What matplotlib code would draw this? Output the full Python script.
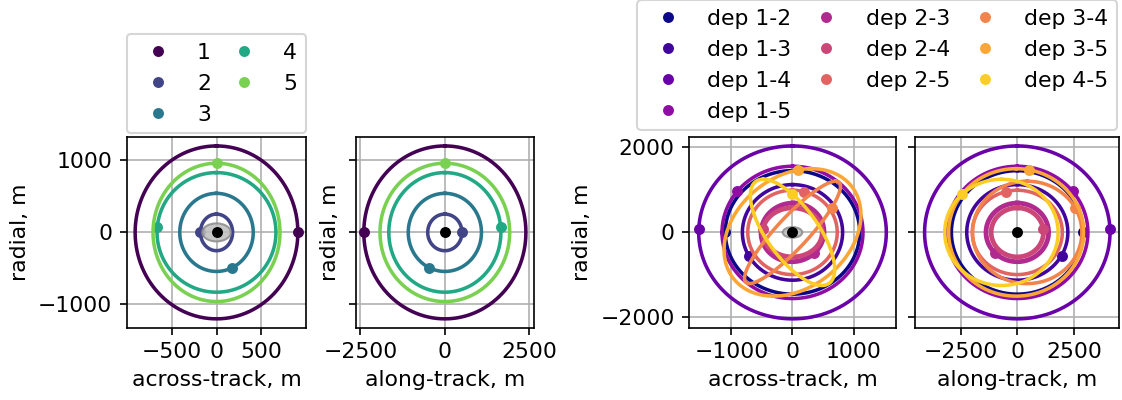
import numpy as np
import matplotlib.pyplot as plt
from matplotlib.patches import Ellipse

# deputy orbits relative to the chief (m, deg)
orbit_labels = ['1', '2', '3', '4', '5']
radial_amp = [1200, 254, 542, 830, 960]
along_amp = [2400, 508, 1084, 1660, 1920]
cross_amp = [910, 180, 411, 665, 710]
marker_phase = [-90, 90, -154.6, 85, 0]

# relative orbits between pairs of deputies
pair_labels = ['dep 1-2', 'dep 1-3', 'dep 1-4', 'dep 1-5', 'dep 2-3',
               'dep 2-4', 'dep 2-5', 'dep 3-4', 'dep 3-5', 'dep 4-5']
pair_radial_amp = [1454, 1125, 2035, 1557, 690, 577, 993, 1205, 1500, 1250]
pair_along_amp = [2908, 2230, 4090, 3114, 1380, 1154, 1986, 2410, 2980, 2500]
pair_along_off = [0, 0, 0, 0, 0, 0, 0, 437, -50, -700]
pair_cross_amp = [1100, 820, 1535, 1153, 515, 486, 732, 785, 1120, 690]
pair_cross_lag = [-90, -90, -90, -90, -89, -90, -90, 26, -74, -134]
pair_marker_phase = [90, 119, 88, 51.6, -135.2, 82.8, -14.8, 61, 11, -44]
pair_lw = [1.7, 1.7, 1.7, 1.7, 2.3, 2.3, 1.7, 1.7, 1.7, 1.7]

# chief keep-out zone half sizes (cross, radial), m
keep_out = (160, 125)

plt.rcParams['font.size'] = 10.5
plt.rcParams['lines.linewidth'] = 1.7
plt.rcParams['lines.markersize'] = 8.5


def relative_track(a, c, off, b, lag, th):
    th = np.radians(th)
    radial = a * np.cos(th)
    along = c * np.sin(th) + off
    cross = b * np.cos(th - np.radians(lag))
    return cross, along, radial


fig = plt.figure(figsize=(7.48, 400 / 150), dpi=150)
ax1 = fig.add_axes([127 / 1122, 0.18125, 179 / 1122, 0.4755])
ax2 = fig.add_axes([355.7 / 1122, 0.18125, 178.3 / 1122, 0.4755], sharey=ax1)
ax3 = fig.add_axes([689.3 / 1122, 0.18125, 206.4 / 1122, 0.4755])
ax4 = fig.add_axes([915.3 / 1122, 0.18125, 204 / 1122, 0.4755], sharey=ax3)

theta = np.linspace(0, 360, 721)

colors = plt.cm.viridis(np.linspace(0, 0.8, len(orbit_labels)))
for i, lab in enumerate(orbit_labels):
    cx, al, rd = relative_track(radial_amp[i], along_amp[i], 0, cross_amp[i], -90, theta)
    mx, ma, mr = relative_track(radial_amp[i], along_amp[i], 0, cross_amp[i], -90, marker_phase[i])
    ax1.plot(cx, rd, color=colors[i])
    ax1.plot(mx, mr, '.', color=colors[i], label=lab)
    ax2.plot(al, rd, color=colors[i])
    ax2.plot(ma, mr, '.', color=colors[i])

pcolors = plt.cm.plasma(np.linspace(0, 0.9, len(pair_labels)))
for i, lab in enumerate(pair_labels):
    args = (pair_radial_amp[i], pair_along_amp[i], pair_along_off[i],
            pair_cross_amp[i], pair_cross_lag[i])
    cx, al, rd = relative_track(*args, theta)
    mx, ma, mr = relative_track(*args, pair_marker_phase[i])
    ax3.plot(cx, rd, color=pcolors[i], lw=pair_lw[i])
    ax3.plot(mx, mr, '.', color=pcolors[i], label=lab)
    ax4.plot(al, rd, color=pcolors[i], lw=pair_lw[i])
    ax4.plot(ma, mr, '.', color=pcolors[i])

for ax in [ax1, ax3]:
    ax.add_patch(Ellipse((0, 0), 2 * keep_out[0], 2 * keep_out[1],
                         facecolor='0.74', edgecolor='0.55', alpha=0.85, zorder=3))
for ax in [ax1, ax2, ax3, ax4]:
    ax.plot(0, 0, '.', color='k', zorder=4)
    ax.grid(True)

ax1.set_xticks([-500, 0, 500])
ax1.set_yticks([-1000, 0, 1000])
ax2.set_xticks([-2500, 0, 2500])
ax3.set_xticks([-1000, 0, 1000])
ax3.set_yticks([-2000, 0, 2000])
ax4.set_xticks([-2500, 0, 2500])
ax2.tick_params(labelleft=False)
ax4.tick_params(labelleft=False)

ax1.set_xlabel('across-track, m')
ax1.set_ylabel('radial, m')
ax2.set_xlabel('along-track, m')
ax2.set_ylabel('radial, m')
ax3.set_xlabel('across-track, m')
ax3.set_ylabel('radial, m')
ax4.set_xlabel('along-track, m')

ax1.legend(ncol=2, mode='expand', loc='lower left',
           bbox_to_anchor=(0, 1.02, 1, 0.2), borderaxespad=0)
ax3.legend(ncol=3, loc='lower right', bbox_to_anchor=(0.99, 1.036),
           bbox_transform=ax4.transAxes, borderaxespad=0, columnspacing=0.6)

plt.savefig('out.png', dpi=150)
